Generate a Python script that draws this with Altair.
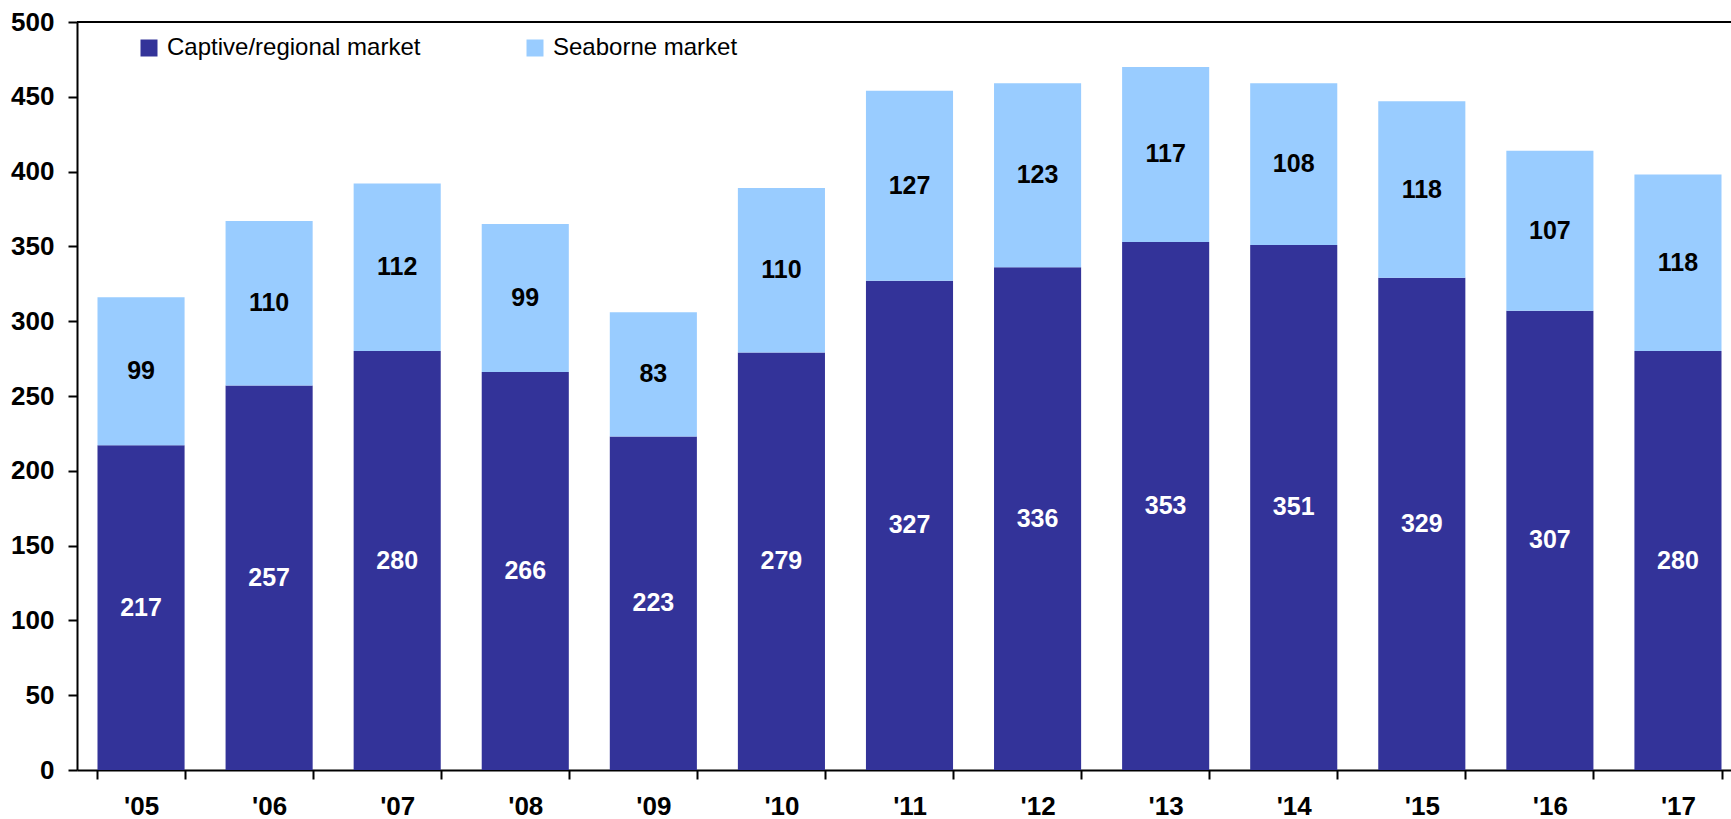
import altair as alt
import pandas as pd

years = ["'05", "'06", "'07", "'08", "'09", "'10", "'11", "'12", "'13", "'14", "'15", "'16", "'17"]
captive = [217, 257, 280, 266, 223, 279, 327, 336, 353, 351, 329, 307, 280]
seaborne = [99, 110, 112, 99, 83, 110, 127, 123, 117, 108, 118, 107, 118]
series_names = ["Captive/regional market", "Seaborne market"]
series_colors = ["#333399", "#99CCFF"]
label_colors = ["white", "black"]
y_ticks = [0, 50, 100, 150, 200, 250, 300, 350, 400, 450, 500]

rows = []
for i, yr in enumerate(years):
    c, s = captive[i], seaborne[i]
    rows.append({"year": yr, "series": series_names[0], "value": c, "ord": 0,
                 "mid": c / 2, "tcol": label_colors[0]})
    rows.append({"year": yr, "series": series_names[1], "value": s, "ord": 1,
                 "mid": c + s / 2, "tcol": label_colors[1]})
df = pd.DataFrame(rows)

FONT = "Liberation Sans"

xscale = alt.Scale(domain=years, range=[0, 1665], paddingInner=0.32, paddingOuter=0.16)
yscale = alt.Scale(domain=[0, 500], nice=False, zero=True)

x_axis = alt.Axis(labelAngle=0, labelFont=FONT, labelFontSize=26, labelFontWeight="bold",
                  labelColor="black", labelPadding=14, tickBand="extent",
                  tickSize=9, tickWidth=2, tickColor="black",
                  domainColor="black", domainWidth=2, grid=False)
y_axis = alt.Axis(values=y_ticks, labelFont=FONT, labelFontSize=26, labelFontWeight="bold",
                  labelColor="black", labelPadding=14, tickSize=9, tickWidth=2,
                  tickColor="black", domainColor="black", domainWidth=2, grid=False)

bars = alt.Chart(df).mark_bar().encode(
    x=alt.X("year:N", sort=years, scale=xscale, title=None, axis=x_axis),
    y=alt.Y("value:Q", stack="zero", scale=yscale, title=None, axis=y_axis),
    color=alt.Color("series:N", sort=series_names,
                    scale=alt.Scale(domain=series_names, range=series_colors),
                    legend=alt.Legend(title=None, orient="none", legendX=60, legendY=14,
                                      direction="horizontal", symbolType="square", symbolSize=289,
                                      symbolStrokeWidth=0, symbolOpacity=1, labelFont=FONT,
                                      labelFontSize=24, labelColor="black", labelOffset=6,
                                      labelLimit=500, columnPadding=102, padding=0)),
    order=alt.Order("ord:Q"),
)

texts = alt.Chart(df).mark_text(font=FONT, fontSize=25, fontWeight="bold", baseline="middle",
                                 align="center").encode(
    x=alt.X("year:N", sort=years, scale=xscale, title=None, axis=x_axis),
    y=alt.Y("mid:Q", stack=None, scale=yscale, title=None, axis=y_axis),
    text=alt.Text("value:Q"),
    color=alt.Color("tcol:N", scale=None),
)

top_line = alt.Chart(df).mark_rule(color="black", strokeWidth=2).encode(
    y=alt.datum(500, scale=yscale, title=None, axis=y_axis)
)

chart = alt.layer(bars, texts, top_line).properties(
    width=1654, height=748,
    autosize=alt.AutoSizeParams(type="none"),
    padding={"left": 77, "top": 22, "right": 0, "bottom": 49},
    background="white",
).configure_view(stroke=None)

chart.save("out.html", embed_options={"renderer": "svg", "actions": False})
